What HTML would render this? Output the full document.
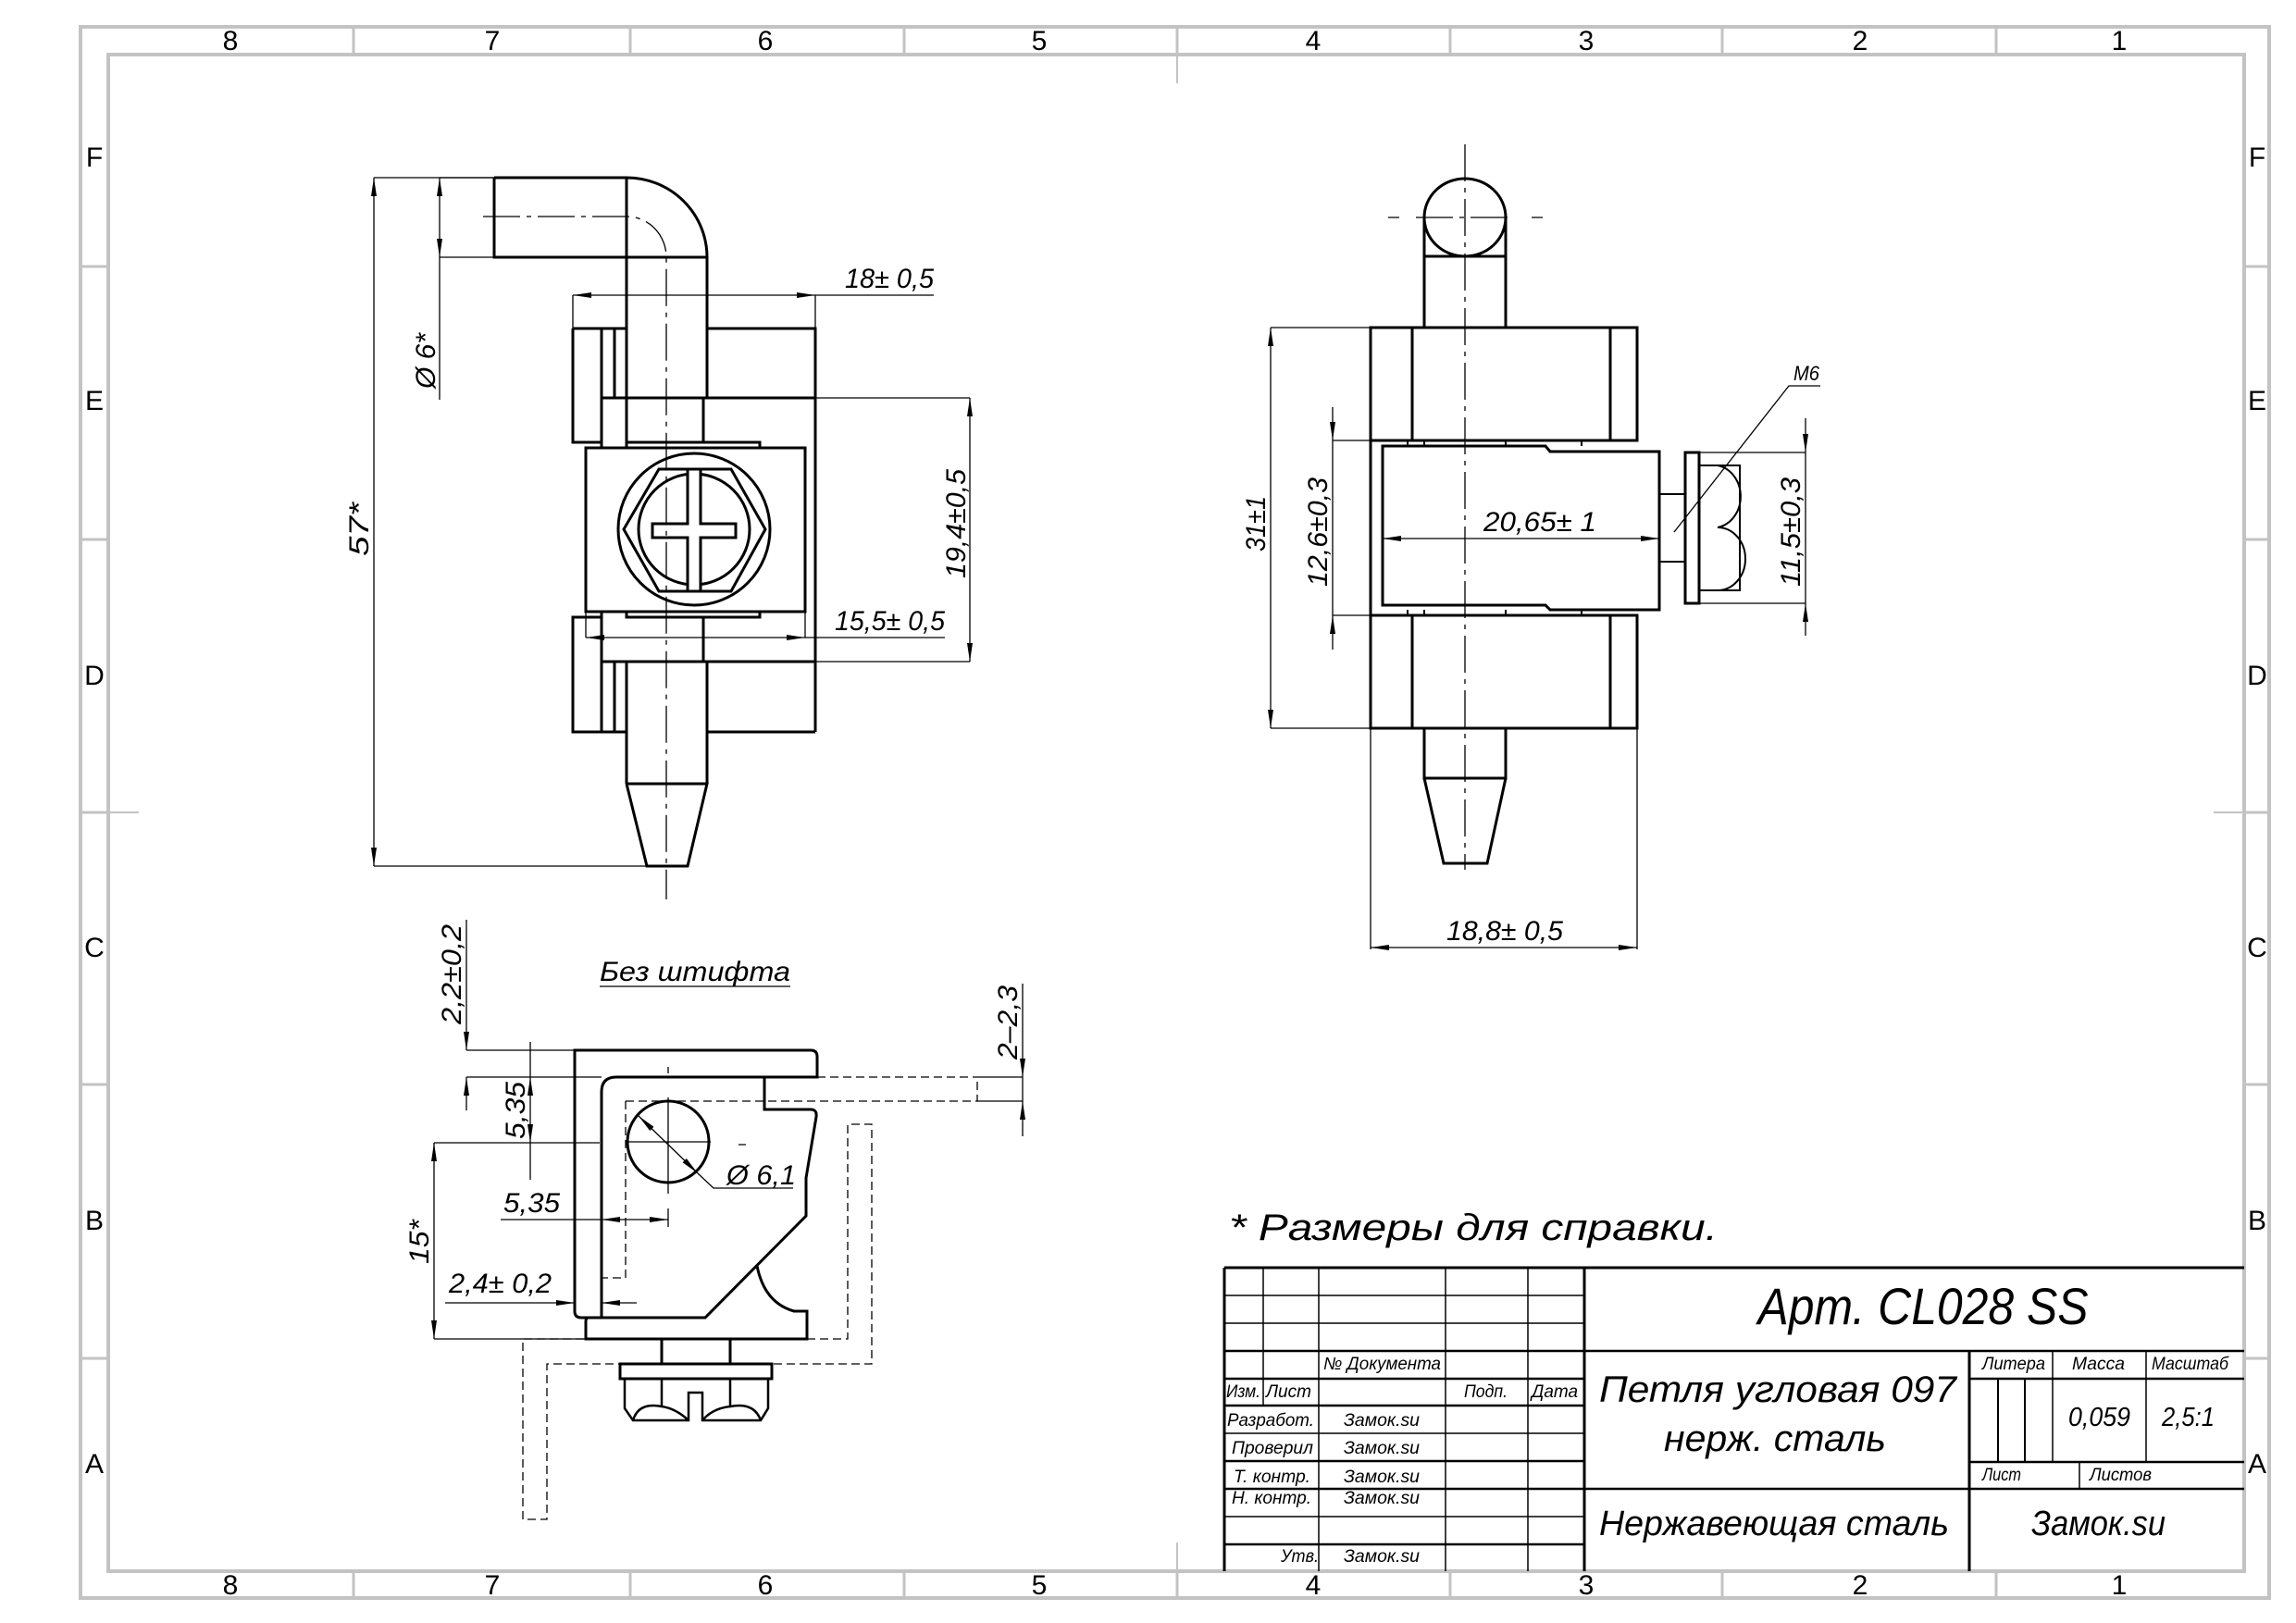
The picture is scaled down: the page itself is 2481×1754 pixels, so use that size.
<!DOCTYPE html>
<html><head><meta charset="utf-8"><style>
html,body{margin:0;padding:0;background:#fff;}
svg{display:block;}
text{font-family:"Liberation Sans","DejaVu Sans",sans-serif;font-style:italic;fill:#000;}
</style></head><body>
<svg width="2481" height="1754" viewBox="0 0 2481 1754" xmlns="http://www.w3.org/2000/svg">
<defs>
<marker id="a" viewBox="0 0 20 6" refX="20" refY="3" markerWidth="20" markerHeight="6" markerUnits="userSpaceOnUse" orient="auto-start-reverse"><path d="M0,0 L20,3 L0,6 Z" fill="#000"/></marker>
</defs>
<rect width="2481" height="1754" fill="#fff"/>
<!-- frame -->
<g stroke="#c3c3c3" stroke-width="4" fill="none">
<rect x="87" y="29" width="2365" height="1698"/>
<rect x="117" y="59" width="2308" height="1639"/>
<path d="M382,29V59M681,29V59M977,29V59M1272,29V59M1567,29V59M1861,29V59M2157,29V59
M382,1698V1727M681,1698V1727M977,1698V1727M1272,1698V1727M1567,1698V1727M1861,1698V1727M2157,1698V1727
M87,288H117M87,583H117M87,878H117M87,1172H117M87,1468H117
M2425,288H2452M2425,583H2452M2425,878H2452M2425,1172H2452M2425,1468H2452" stroke-width="3"/>
<path d="M117,878H150M2392,878H2425M1272,59V90M1272,1667V1698" stroke-width="2"/>
</g>
<g font-size="30" text-anchor="middle">
<text x="249" y="54" style="font-style:normal">8</text><text x="532" y="54" style="font-style:normal">7</text><text x="827" y="54" style="font-style:normal">6</text><text x="1123" y="54" style="font-style:normal">5</text><text x="1419" y="54" style="font-style:normal">4</text><text x="1714" y="54" style="font-style:normal">3</text><text x="2010" y="54" style="font-style:normal">2</text><text x="2290" y="54" style="font-style:normal">1</text>
<text x="249" y="1723" style="font-style:normal">8</text><text x="532" y="1723" style="font-style:normal">7</text><text x="827" y="1723" style="font-style:normal">6</text><text x="1123" y="1723" style="font-style:normal">5</text><text x="1419" y="1723" style="font-style:normal">4</text><text x="1714" y="1723" style="font-style:normal">3</text><text x="2010" y="1723" style="font-style:normal">2</text><text x="2290" y="1723" style="font-style:normal">1</text>
<text x="102" y="180" style="font-style:normal">F</text><text x="102" y="443" style="font-style:normal">E</text><text x="102" y="740" style="font-style:normal">D</text><text x="102" y="1034" style="font-style:normal">C</text><text x="102" y="1329" style="font-style:normal">B</text><text x="102" y="1592" style="font-style:normal">A</text>
<text x="2439" y="180" style="font-style:normal">F</text><text x="2439" y="443" style="font-style:normal">E</text><text x="2439" y="740" style="font-style:normal">D</text><text x="2439" y="1034" style="font-style:normal">C</text><text x="2439" y="1329" style="font-style:normal">B</text><text x="2439" y="1592" style="font-style:normal">A</text>
</g>

<!-- ===== LEFT TOP VIEW ===== -->
<g stroke="#000" stroke-width="3" fill="none" stroke-linejoin="miter">
<path d="M534,192H677V478M534,192V278H764V430M677,192A87,86 0 0 1 764,278"/>
<path d="M619,355H677M764,355H881V791"/>
<path d="M619,355V478H650M650,355V478M664,355V430M650,430H881"/>
<rect x="650" y="430" width="231" height="285"/>
<path d="M760,430V478M760,667V715"/>
<rect x="677" y="478" width="144" height="6"/>
<rect x="677" y="661" width="144" height="6"/>
<rect x="633" y="484" width="237" height="177" fill="#fff"/>
<path d="M619,667H650V791H619ZM664,715V791M677,715V847M764,715V847M764,791H881M650,791H677M677,847H764L743,936H699L677,847"/>
<circle cx="750" cy="572" r="82"/>
<path d="M674,572L712,507H790L827,572L790,639H712Z"/>
<circle cx="750" cy="572" r="60"/>
<path d="M743,507V566H705V581H743V639H757V581H795V566H757V507Z" fill="#fff"/>
</g>
<g stroke="#000" stroke-width="1.3" fill="none">
<path d="M522,234H677A43,44 0 0 1 720,278V972" stroke-dasharray="40,7,5,7"/>
<path d="M404,192H534M404,936H700"/>
<path d="M404,192V936" marker-start="url(#a)" marker-end="url(#a)"/>
<path d="M475,192H534M475,278H534M475,278V432"/>
<path d="M475,192V278" marker-start="url(#a)" marker-end="url(#a)"/>
<path d="M619,319V355M881,319V355M881,319H1009"/>
<path d="M619,319H881" marker-start="url(#a)" marker-end="url(#a)"/>
<path d="M881,430H1048M881,715H1048"/>
<path d="M1048,430V715" marker-start="url(#a)" marker-end="url(#a)"/>
<path d="M633,661V689M870,661V689M870,689H1021"/>
<path d="M633,689H870" marker-start="url(#a)" marker-end="url(#a)"/>
</g>
<g font-size="30">
<text x="398" y="572" transform="rotate(-90 398 572)" text-anchor="middle" textLength="58" lengthAdjust="spacingAndGlyphs">57*</text>
<text x="470" y="390" transform="rotate(-90 470 390)" text-anchor="middle">Ø 6*</text>
<text x="913" y="311" textLength="96" lengthAdjust="spacingAndGlyphs">18± 0,5</text>
<text x="1043" y="566" transform="rotate(-90 1043 566)" text-anchor="middle" textLength="118" lengthAdjust="spacingAndGlyphs">19,4±0,5</text>
<text x="902" y="681" textLength="119" lengthAdjust="spacingAndGlyphs">15,5± 0,5</text>
</g>

<!-- ===== RIGHT VIEW ===== -->
<g stroke="#000" stroke-width="3" fill="none">
<ellipse cx="1583" cy="235" rx="44" ry="42"/>
<path d="M1539,235V354M1627,235V354M1539,277H1627"/>
<rect x="1481" y="354" width="288" height="122"/>
<path d="M1526,354V476M1740,354V476"/>
<rect x="1481" y="665" width="288" height="122"/>
<path d="M1526,665V787M1740,665V787M1481,476V665"/>
<path d="M1494,482H1670L1675,488H1793V659H1675L1670,654H1494Z"/>
<path d="M1521,476V482M1539,476V482M1627,476V482M1709,476V482M1521,659V665M1539,659V665M1627,659V665M1709,659V665" stroke-width="2"/>
<path d="M1793,534H1821M1793,607H1821" stroke-width="2"/>
<rect x="1821" y="489" width="15" height="163"/>
<rect x="1836" y="503" width="44" height="135" stroke-width="2"/>
<path d="M1856,503A30,34 0 0 1 1856,570A30,34 0 0 1 1856,638" stroke-width="2"/>
<path d="M1539,787V841H1627V787M1539,841L1560,933H1607L1627,841"/>
</g>
<g stroke="#000" stroke-width="1.3" fill="none">
<path d="M1583,156V940M1500,235H1512M1655,235H1667M1530,235H1636" stroke-dasharray="40,7,5,7"/>
<path d="M1373,354H1481M1373,787H1481"/>
<path d="M1373,354V787" marker-start="url(#a)" marker-end="url(#a)"/>
<path d="M1440,476H1481M1440,665H1481"/>
<path d="M1440,440V476" marker-end="url(#a)"/>
<path d="M1440,702V665" marker-end="url(#a)"/>
<path d="M1440,476V665"/>
<path d="M1494,582H1793" marker-start="url(#a)" marker-end="url(#a)"/>
<path d="M1836,489H1951M1836,652H1951"/>
<path d="M1951,452V489" marker-end="url(#a)"/>
<path d="M1951,687V652" marker-end="url(#a)"/>
<path d="M1951,489V652"/>
<path d="M1809,575L1933,417H1967"/>
<path d="M1481,787V1026M1769,787V1026"/>
<path d="M1481,1024H1769" marker-start="url(#a)" marker-end="url(#a)"/>
</g>
<g font-size="30">
<text x="1367" y="566" transform="rotate(-90 1367 566)" text-anchor="middle" textLength="60" lengthAdjust="spacingAndGlyphs">31±1</text>
<text x="1434" y="575" transform="rotate(-90 1434 575)" text-anchor="middle" textLength="118" lengthAdjust="spacingAndGlyphs">12,6±0,3</text>
<text x="1664" y="574" text-anchor="middle" textLength="122" lengthAdjust="spacingAndGlyphs">20,65± 1</text>
<text x="1945" y="575" transform="rotate(-90 1945 575)" text-anchor="middle" textLength="118" lengthAdjust="spacingAndGlyphs">11,5±0,3</text>
<text x="1626" y="1016" text-anchor="middle" textLength="126" lengthAdjust="spacingAndGlyphs">18,8± 0,5</text>
<text x="1938" y="411" font-size="22" textLength="28" lengthAdjust="spacingAndGlyphs">M6</text>
</g>

<!-- ===== BOTTOM LEFT VIEW ===== -->
<g stroke="#000" stroke-width="3" fill="none">
<path d="M650,1424H628Q621,1424 621,1417V1135H876Q883,1135 883,1142V1164H666Q650,1164 650,1180V1424"/>
<path d="M650,1424H762L871,1314V1273L882,1207Q883,1199 876,1199H826V1164"/>
<path d="M636,1424Q633,1424 633,1428V1447H872V1417H858Q826,1408 818,1368"/>
<circle cx="722" cy="1234" r="44"/>
<path d="M715,1447V1474M789,1447V1474"/>
<rect x="670" y="1474" width="164" height="16"/>
<path d="M675,1490V1522L684,1535H744V1505H759V1535H822L830,1522V1490M715,1490V1520M789,1490V1520M684,1535Q690,1515 715,1520Q730,1522 744,1535M759,1535Q770,1522 789,1520Q815,1515 822,1535" stroke-width="2.5"/>
</g>
<g stroke="#000" stroke-width="1.3" fill="none">
<path d="M676,1234H768M722,1186V1290M722,1153V1160"/>
<path d="M883,1164H1056M676,1190H1056V1164M676,1190V1381H650M872,1447H916V1215H942V1474H591V1642H565V1447H633" stroke-dasharray="9,5"/>
<path d="M1056,1164H1105M1056,1190H1105"/>
<path d="M1105,1063V1164" marker-end="url(#a)"/>
<path d="M1105,1228V1190" marker-end="url(#a)"/>
<path d="M1105,1164V1190"/>
<path d="M504,1135H621M504,1164H650"/>
<path d="M504,994V1135" marker-end="url(#a)"/>
<path d="M504,1200V1164" marker-end="url(#a)"/>
<path d="M573,1126V1164" />
<path d="M573,1164V1235" marker-start="url(#a)" marker-end="url(#a)"/>
<path d="M573,1235V1275"/>
<path d="M469,1235H648M469,1447H633"/>
<path d="M469,1235V1447" marker-start="url(#a)" marker-end="url(#a)"/>
<path d="M541,1318H650"/>
<path d="M650,1318H722" marker-start="url(#a)" marker-end="url(#a)"/>
<path d="M722,1306V1326"/>
<path d="M481,1408H621" marker-end="url(#a)"/>
<path d="M688,1408H650" marker-end="url(#a)"/>
<path d="M690,1206L754,1268" marker-start="url(#a)" marker-end="url(#a)"/>
<path d="M754,1268L771,1284H857M798,1237H806"/>
<path d="M648,1066H854"/>
</g>
<g font-size="30">
<text x="648" y="1060" textLength="206" lengthAdjust="spacingAndGlyphs">Без штифта</text>
<text x="498" y="1053" transform="rotate(-90 498 1053)" text-anchor="middle" textLength="108" lengthAdjust="spacingAndGlyphs">2,2±0,2</text>
<text x="567" y="1200" transform="rotate(-90 567 1200)" text-anchor="middle" textLength="62" lengthAdjust="spacingAndGlyphs">5,35</text>
<text x="463" y="1342" transform="rotate(-90 463 1342)" text-anchor="middle" textLength="48" lengthAdjust="spacingAndGlyphs">15*</text>
<text x="1099" y="1105" transform="rotate(-90 1099 1105)" text-anchor="middle" textLength="80" lengthAdjust="spacingAndGlyphs">2–2,3</text>
<text x="544" y="1310" textLength="61" lengthAdjust="spacingAndGlyphs">5,35</text>
<text x="485" y="1397" textLength="111" lengthAdjust="spacingAndGlyphs">2,4± 0,2</text>
<text x="785" y="1280" textLength="75" lengthAdjust="spacingAndGlyphs">Ø 6,1</text>
</g>

<text x="1328" y="1340" font-size="40" textLength="528" lengthAdjust="spacingAndGlyphs">* Размеры  для  справки.</text>

<!-- ===== TITLE BLOCK ===== -->
<g transform="translate(-10,-7)">
<g stroke="#000" fill="none">
<path d="M1333,1377H2435M1333,1377V1705M1722,1377V1705M2138,1467V1705" stroke-width="3"/>
<path d="M1435,1377V1705M1572,1377V1705M1661,1377V1705" stroke-width="1.5"/>
<path d="M1375,1377V1526" stroke-width="1.5"/>
<path d="M1333,1407H1722M1333,1437H1722M1333,1556H1722M1333,1646H1722" stroke-width="1.5"/>
<path d="M1333,1467H1722M1333,1497H1722M1333,1526H1722M1333,1586H1722M1333,1616H1722M1333,1676H1722" stroke-width="2.5"/>
<path d="M1722,1467H2435M1722,1616H2435M2138,1497H2435M2138,1587H2435" stroke-width="2.5"/>
<path d="M2228,1467V1587M2329,1467V1587M2257,1587V1616" stroke-width="1.5"/>
<path d="M2169,1497V1587M2198,1497V1587" stroke-width="2"/>
</g>
<text x="2088" y="1438" font-size="56" text-anchor="middle" textLength="357" lengthAdjust="spacingAndGlyphs">Арт. CL028 SS</text>
<text x="1738" y="1522" font-size="40" textLength="386" lengthAdjust="spacingAndGlyphs">Петля угловая 097</text>
<text x="1808" y="1575" font-size="40" textLength="240" lengthAdjust="spacingAndGlyphs">нерж. сталь</text>
<text x="1738" y="1666" font-size="38" textLength="378" lengthAdjust="spacingAndGlyphs">Нержавеющая сталь</text>
<text x="2205" y="1666" font-size="38" textLength="145" lengthAdjust="spacingAndGlyphs">Замок.su</text>
<g font-size="19">
<text x="1440" y="1487" textLength="127" lengthAdjust="spacingAndGlyphs">№ Документа</text>
<text x="1335" y="1517" textLength="37" lengthAdjust="spacingAndGlyphs">Изм.</text>
<text x="1378" y="1517" textLength="49" lengthAdjust="spacingAndGlyphs">Лист</text>
<text x="1592" y="1517" textLength="47" lengthAdjust="spacingAndGlyphs">Подп.</text>
<text x="1665" y="1517" textLength="50" lengthAdjust="spacingAndGlyphs">Дата</text>
<text x="1336" y="1548" textLength="94" lengthAdjust="spacingAndGlyphs">Разработ.</text>
<text x="1341" y="1578" textLength="88" lengthAdjust="spacingAndGlyphs">Проверил</text>
<text x="1343" y="1609" textLength="83" lengthAdjust="spacingAndGlyphs">Т. контр.</text>
<text x="1341" y="1632" textLength="86" lengthAdjust="spacingAndGlyphs">Н. контр.</text>
<text x="1394" y="1695" textLength="41" lengthAdjust="spacingAndGlyphs">Утв.</text>
<text x="1462" y="1548" textLength="82" lengthAdjust="spacingAndGlyphs">Замок.su</text>
<text x="1462" y="1578" textLength="82" lengthAdjust="spacingAndGlyphs">Замок.su</text>
<text x="1462" y="1609" textLength="82" lengthAdjust="spacingAndGlyphs">Замок.su</text>
<text x="1462" y="1632" textLength="82" lengthAdjust="spacingAndGlyphs">Замок.su</text>
<text x="1462" y="1695" textLength="82" lengthAdjust="spacingAndGlyphs">Замок.su</text>
<text x="2152" y="1487" textLength="68" lengthAdjust="spacingAndGlyphs">Литера</text>
<text x="2249" y="1487" textLength="57" lengthAdjust="spacingAndGlyphs">Масса</text>
<text x="2335" y="1487" textLength="83" lengthAdjust="spacingAndGlyphs">Масштаб</text>
<text x="2152" y="1607" textLength="42" lengthAdjust="spacingAndGlyphs">Лист</text>
<text x="2268" y="1607" textLength="67" lengthAdjust="spacingAndGlyphs">Листов</text>
</g>
<text x="2245" y="1548" font-size="29" textLength="67" lengthAdjust="spacingAndGlyphs">0,059</text>
<text x="2346" y="1548" font-size="29" textLength="57" lengthAdjust="spacingAndGlyphs">2,5:1</text>
</g>
</svg>
</body></html>
